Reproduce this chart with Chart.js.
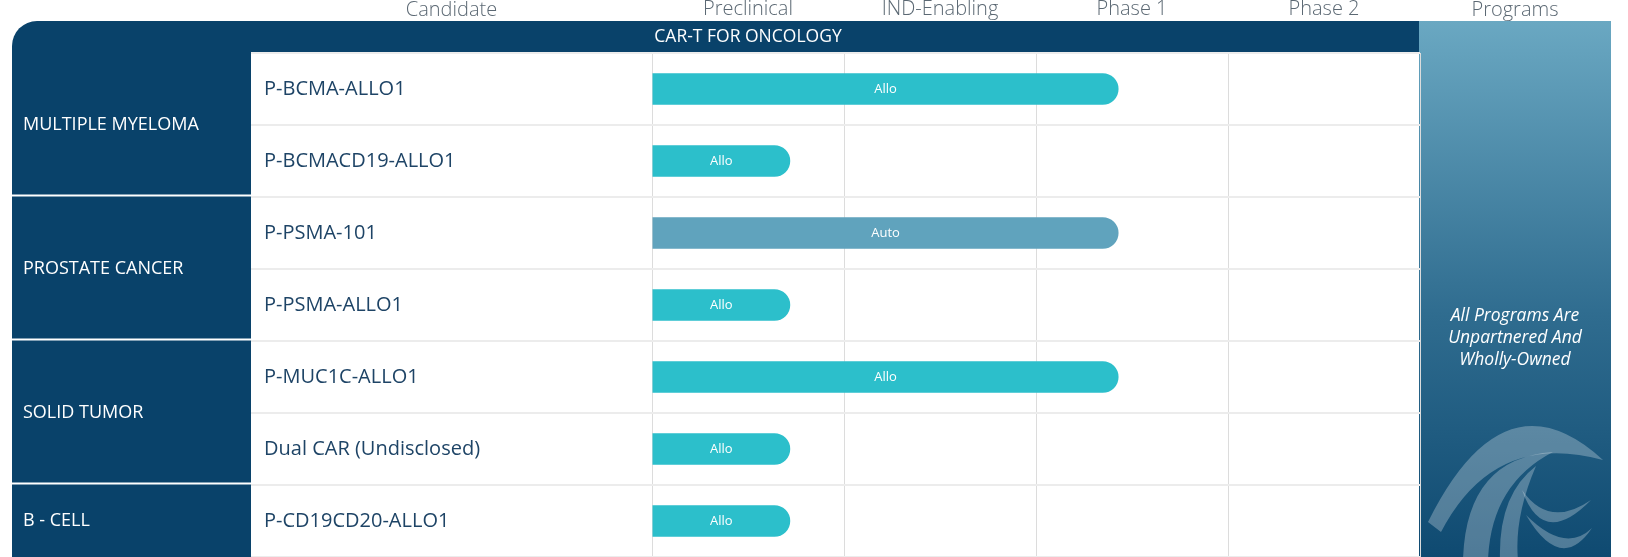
<!DOCTYPE html>
<html><head><meta charset="utf-8">
<script src="https://cdn.jsdelivr.net/npm/chart.js@4.4.1/dist/chart.umd.min.js"></script>
<style>html,body{margin:0;padding:0;background:#fff;overflow:hidden}#wrap{width:1628px;height:557px;position:relative}</style>
</head><body><div id="wrap"><canvas id="c" width="1628" height="557"></canvas></div>
<script>
const phases = ['Preclinical', 'IND-Enabling', 'Phase 1', 'Phase 2'];
const candidates = ['P-BCMA-ALLO1', 'P-BCMACD19-ALLO1', 'P-PSMA-101', 'P-PSMA-ALLO1', 'P-MUC1C-ALLO1', 'Dual CAR (Undisclosed)', 'P-CD19CD20-ALLO1'];
const progress = [2.43, 0.72, 2.43, 0.72, 2.43, 0.72, 0.72];
const platforms = ['Allo', 'Allo', 'Auto', 'Allo', 'Allo', 'Allo', 'Allo'];
const indications = ['MULTIPLE MYELOMA', 'PROSTATE CANCER', 'SOLID TUMOR', 'B - CELL'];
const indicationRows = [2, 2, 2, 1];
const sectionTitle = 'CAR-T FOR ONCOLOGY';
const candidateHeader = 'Candidate';
const programsHeader = 'Programs';
const programsNote = ['All Programs Are', 'Unpartnered And', 'Wholly-Owned'];

const NAVY = '#09426a';
const platformColors = { Allo: '#2cbfcb', Auto: '#60a3bd' };
const FONT = '"Open Sans", "Noto Sans", sans-serif';

const PANEL = { left: 12, top: 21, catRight: 251, progLeft: 1419, progRight: 1611 };

// decorative swoosh crescents: [tipA, outerCtrl, tipB, innerCtrl, tipA2]
const swoosh = [
  [[1428, 522], [1504, 369], [1603, 460], [1494, 430], [1441, 532]],
  [[1463, 560], [1466, 458], [1553, 452], [1491, 484], [1488, 560]],
  [[1500, 560], [1498, 495], [1536, 466], [1514, 517], [1518, 560]],
  [[1522, 490], [1543, 549], [1591, 500], [1549, 529], [1522, 490]],
  [[1526, 515], [1561, 574], [1592, 528], [1565, 554], [1526, 515]]
];

const pipelinePlugin = {
  id: 'pipeline',
  beforeDraw(chart) {
    const ctx = chart.ctx;
    const ca = chart.chartArea;
    const yS = chart.scales.y;
    const xTop = chart.scales.xTop;
    const H = chart.height;
    ctx.save();
    ctx.fillStyle = '#fff';
    ctx.fillRect(0, 0, chart.width, H);
    const r = 25;
    ctx.fillStyle = NAVY;
    ctx.beginPath();
    ctx.moveTo(PANEL.left, H);
    ctx.lineTo(PANEL.left, PANEL.top + r);
    ctx.arcTo(PANEL.left, PANEL.top, PANEL.left + r, PANEL.top, r);
    ctx.lineTo(ca.right, PANEL.top);
    ctx.lineTo(ca.right, H);
    ctx.closePath();
    ctx.fill();
    ctx.fillStyle = '#fff';
    ctx.fillRect(PANEL.catRight, ca.top, ca.right - PANEL.catRight, H - ca.top);
    const g = ctx.createLinearGradient(0, PANEL.top, 0, H);
    g.addColorStop(0, '#6aa8c2');
    g.addColorStop(0.55, '#2f6c8f');
    g.addColorStop(1, '#0f4a71');
    ctx.fillStyle = g;
    ctx.fillRect(PANEL.progLeft, PANEL.top, PANEL.progRight - PANEL.progLeft, H - PANEL.top);

    ctx.save();
    ctx.beginPath();
    ctx.rect(PANEL.progLeft, PANEL.top, PANEL.progRight - PANEL.progLeft, H - PANEL.top);
    ctx.clip();
    ctx.fillStyle = 'rgba(255,255,255,0.27)';
    swoosh.forEach(s => {
      ctx.beginPath();
      ctx.moveTo(s[0][0], s[0][1]);
      ctx.quadraticCurveTo(s[1][0], s[1][1], s[2][0], s[2][1]);
      ctx.quadraticCurveTo(s[3][0], s[3][1], s[4][0], s[4][1]);
      ctx.closePath();
      ctx.fill();
    });
    ctx.restore();

    ctx.fillStyle = '#5b6873';
    ctx.font = '300 20px ' + FONT;
    ctx.textAlign = 'center';
    ctx.textBaseline = 'middle';
    ctx.fillText(candidateHeader, (PANEL.catRight + ca.left) / 2, 10);
    ctx.fillText(programsHeader, (PANEL.progLeft + PANEL.progRight) / 2, 10);

    ctx.fillStyle = '#fff';
    ctx.font = '17.5px ' + FONT;
    ctx.fillText(sectionTitle, xTop.getPixelForValue(0), 37);

    let start = 0;
    ctx.textAlign = 'left';
    ctx.font = '18px ' + FONT;
    const half = (yS.getPixelForValue(1) - yS.getPixelForValue(0)) / 2;
    indications.forEach((name, i) => {
      const end = start + indicationRows[i] - 1;
      const yc = (yS.getPixelForValue(start) + yS.getPixelForValue(end)) / 2;
      ctx.fillStyle = '#fff';
      ctx.fillText(name, 23, yc);
      if (i < indications.length - 1) {
        const yb = yS.getPixelForValue(end) + half - 1.5;
        ctx.fillRect(PANEL.left, yb - 1, PANEL.catRight - PANEL.left, 2);
      }
      start = end + 1;
    });

    ctx.textAlign = 'center';
    ctx.fillStyle = '#fff';
    ctx.font = 'italic 17.5px ' + FONT;
    programsNote.forEach((t, i) => ctx.fillText(t, (PANEL.progLeft + PANEL.progRight) / 2, 316 + i * 21.8));
    ctx.restore();
  },
  afterDatasetsDraw(chart) {
    const ctx = chart.ctx;
    const meta = chart.getDatasetMeta(0);
    ctx.save();
    ctx.fillStyle = '#fff';
    ctx.font = '13px ' + FONT;
    ctx.textAlign = 'center';
    ctx.textBaseline = 'middle';
    meta.data.forEach((el, i) => {
      ctx.fillText(platforms[i], (el.x + el.base) / 2, el.y);
    });
    ctx.restore();
  }
};

new Chart(document.getElementById('c'), {
  type: 'bar',
  data: {
    labels: candidates,
    datasets: [{
      data: progress,
      backgroundColor: platforms.map(p => platformColors[p]),
      barPercentage: 0.44,
      categoryPercentage: 1,
      borderRadius: 16,
      borderSkipped: 'start'
    }]
  },
  options: {
    responsive: false,
    animation: false,
    indexAxis: 'y',
    layout: { padding: { left: 264, right: 208, top: 0, bottom: 0 } },
    plugins: { legend: { display: false }, tooltip: { enabled: false } },
    scales: {
      x: {
        type: 'linear', min: 0, max: 4, position: 'bottom',
        ticks: { display: false, stepSize: 1 },
        grid: { color: '#dcdcdc', lineWidth: 1, drawTicks: false },
        border: { display: false },
        afterFit: s => { s.height = 0; s.paddingLeft = 0; s.paddingRight = 0; }
      },
      xTop: {
        type: 'category', axis: 'x', labels: phases, position: 'top', offset: true,
        grid: { display: false, drawTicks: false },
        border: { display: false },
        ticks: { color: '#5b6873', font: { family: FONT, size: 20, weight: '300' }, padding: 32, maxRotation: 0 },
        afterFit: s => { s.height = 53; s.paddingLeft = 0; s.paddingRight = 0; }
      },
      y: {
        type: 'category', position: 'left', offset: true,
        grid: { offset: true, color: '#ececec', lineWidth: 2, tickLength: 401, drawTicks: true },
        border: { display: false },
        ticks: { crossAlign: 'far', color: '#1e4466', font: { family: FONT, size: 20 }, padding: 0 },
        afterFit: s => { s.width = 388; s.paddingTop = 0; s.paddingBottom = 0; }
      }
    }
  },
  plugins: [pipelinePlugin]
});
</script>
</body></html>
